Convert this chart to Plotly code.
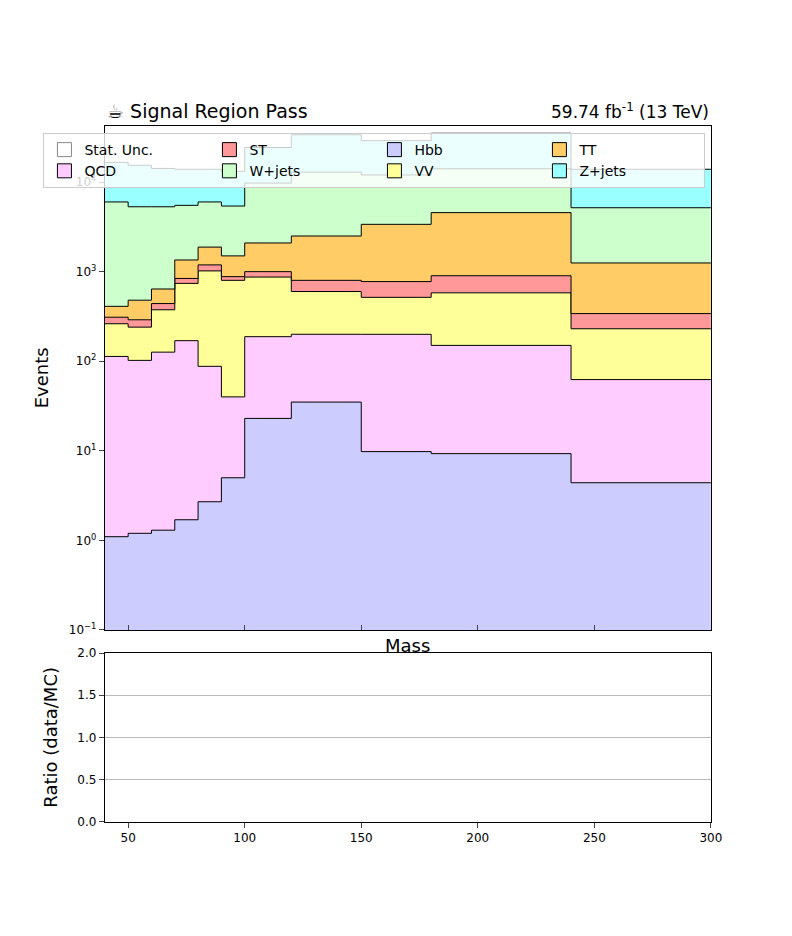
import plotly.graph_objects as go

edges = [40, 50, 60, 70, 80, 90, 100, 120, 150, 180, 240, 300]

# per-process yields (stacked bottom -> top)
hbb = [1.1, 1.2, 1.3, 1.7, 2.7, 5, 23, 35, 9.8, 9.3, 4.4]
qcd = [112, 101, 125, 168, 85, 35, 165, 165, 190, 141, 58]
vv = [149, 138, 249, 570, 932, 760, 682, 400, 317, 430, 168]
st = [48, 50, 65, 100, 170, 80, 130, 200, 258, 320, 110]
tt = [100, 190, 200, 510, 690, 620, 1090, 1700, 2600, 3660, 910]
wjets = [5590, 4820, 4660, 4150, 4120, 3900, 7660, 10400, 8630, 9500, 3920]
zjets = [10600, 10100, 8900, 8400, 7900, 7800, 14550, 20800, 17000, 21000, 8730]

procs = [("Hbb", hbb, "#ccccff"), ("QCD", qcd, "#ffccff"), ("VV", vv, "#ffff99"),
         ("ST", st, "#ff9999"), ("TT", tt, "#ffcc66"), ("W+jets", wjets, "#ccffcc"),
         ("Z+jets", zjets, "#99ffff")]
colors = dict((n, c) for n, _, c in procs)

fig = go.Figure()
fig.add_trace(go.Scatter(x=edges, y=[0.1] * len(edges), mode="lines", line=dict(width=0),
                         showlegend=False, hoverinfo="skip"))
cum = [0.0] * len(hbb)
for name, vals, col in procs:
    cum = [c + v for c, v in zip(cum, vals)]
    fig.add_trace(go.Scatter(x=edges, y=cum + [cum[-1]], mode="lines", line_shape="hv",
                             line=dict(color="black", width=1), fill="tonexty", fillcolor=col,
                             name=name, showlegend=False))

# legend entries in two-column order
for name in ["Z+jets", "VV", "W+jets", "QCD", "TT", "Hbb", "ST"]:
    fig.add_trace(go.Scatter(x=[None], y=[None], mode="markers", name=name,
                             marker=dict(symbol="square", size=14, color=colors[name],
                                         line=dict(color="black", width=1))))
fig.add_trace(go.Scatter(x=[None], y=[None], mode="markers", name="Stat. Unc.",
                         marker=dict(symbol="square", size=14, color="white",
                                     line=dict(color="#888", width=1))))

# ratio panel (empty)
fig.add_trace(go.Scatter(x=[None], y=[None], xaxis="x2", yaxis="y2", showlegend=False))

fig.update_layout(
    width=792, height=936, margin=dict(l=0, r=0, t=0, b=0),
    plot_bgcolor="white", paper_bgcolor="white",
    font=dict(family="DejaVu Sans", color="black", size=12),
    xaxis=dict(domain=[0.124, 0.900], anchor="y", range=[40, 300], showticklabels=False,
               ticks="inside", showline=True, linecolor="black", mirror=True,
               showgrid=False, zeroline=False),
    yaxis=dict(domain=[0.333, 0.880], type="log", range=[-1, 4.63], showline=True,
               linecolor="black", mirror=True, ticks="outside", showgrid=False,
               tickvals=[0.1, 1, 10, 100, 1000, 10000],
               ticktext=["10<sup>−1</sup>", "10<sup>0</sup>", "10<sup>1</sup>", "10<sup>2</sup>",
                         "10<sup>3</sup>", "10<sup>4</sup>"],
               title=dict(text="Events", font=dict(size=18))),
    xaxis2=dict(domain=[0.124, 0.900], anchor="y2", range=[40, 300], showline=True,
                linecolor="black", mirror=True, ticks="outside", showgrid=False,
                tickvals=[50, 100, 150, 200, 250, 300], zeroline=False),
    yaxis2=dict(domain=[0.125, 0.308], anchor="x2", range=[0, 2], showline=True,
                linecolor="black", mirror=True, ticks="outside",
                tickvals=[0, 0.5, 1, 1.5, 2], ticktext=["0.0", "0.5", "1.0", "1.5", "2.0"],
                showgrid=True, gridcolor="#bbbbbb", zeroline=False,
                title=dict(text="Ratio (data/MC)", font=dict(size=18))),
    legend=dict(x=0.893, y=0.872, xanchor="right", yanchor="top", orientation="h",
                entrywidth=120, bgcolor="rgba(255,255,255,0.8)", bordercolor="#cccccc",
                borderwidth=1, font=dict(size=14)),
    annotations=[
        dict(text="☕ Signal Region Pass", x=0.124, y=0.882, xref="paper", yref="paper",
             xanchor="left", yanchor="bottom", showarrow=False, font=dict(size=19)),
        dict(text="59.74 fb<sup>-1</sup> (13 TeV)", x=0.900, y=0.882, xref="paper",
             yref="paper", xanchor="right", yanchor="bottom", showarrow=False,
             font=dict(size=17)),
        dict(text="Mass", x=0.512, y=0.330, xref="paper", yref="paper", xanchor="center",
             yanchor="top", showarrow=False, font=dict(size=18)),
    ],
)
fig.write_html("out.html")
